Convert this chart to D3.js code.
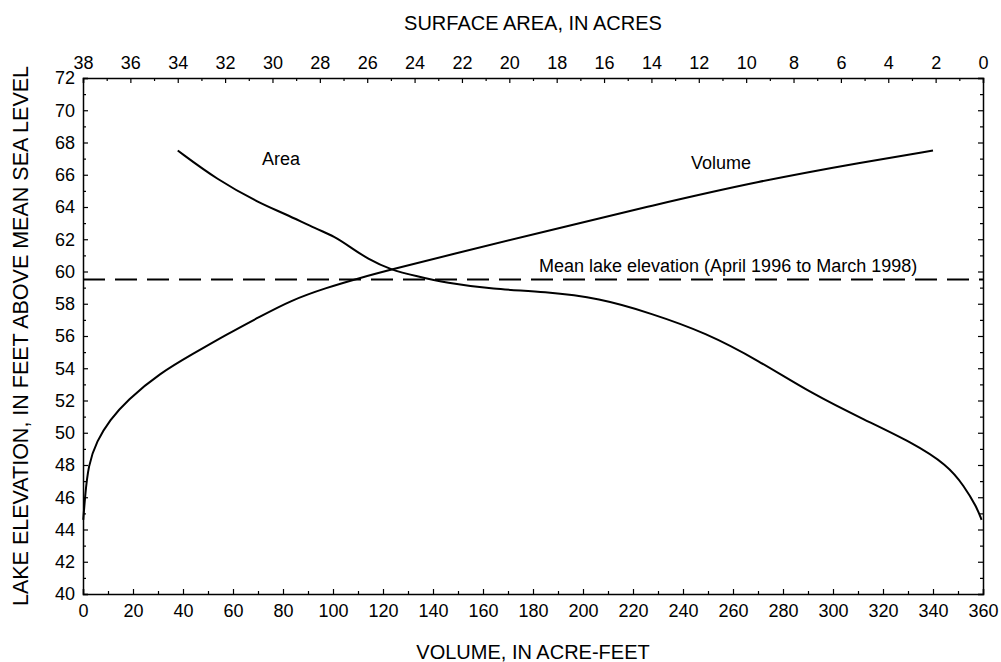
<!DOCTYPE html>
<html>
<head>
<meta charset="utf-8">
<script src="https://cdn.jsdelivr.net/npm/d3@7"></script>
<style>
  body { margin: 0; background: #fff; }
  text { font-family: "Liberation Sans", Arial, Helvetica, sans-serif; fill: #000; }
</style>
</head>
<body>
<div id="root"></div>
<script>
// elevation (ft) vs volume (acre-ft)
var volElev = [44.6, 46, 48, 49.5, 50.8, 52.0, 53.7, 54.9, 56.1, 57.2, 58.2, 59.0, 59.6, 60.1, 61.0, 62.5, 64.1, 65.6, 66.8, 67.5];
var volume  = [0.1, 0.8, 2.1, 5.5, 10.8, 17.5, 30.8, 44.1, 57.5, 70.8, 83, 97.5, 110.8, 122.8, 145.8, 185.2, 227.7, 270.2, 312.6, 340];

// elevation (ft) vs surface area (acres)
var areaElev = [44.6, 45.4, 46.7, 48.0, 49.4, 50.8, 52.4, 54.5, 56.2, 57.4, 58.35, 58.75, 58.9, 59.3, 59.7, 60.1, 60.8, 61.5, 62.2, 62.6, 63.6, 64.2, 65.7, 67.5];
var area     = [0.06, 0.27, 0.8, 1.5, 3.0, 5.0, 7.2, 9.5, 11.7, 14.0, 16.2, 18.5, 20.7, 22.7, 23.9, 25.0, 26.0, 26.7, 27.4, 28.1, 29.5, 30.5, 32.35, 34.0];

var meanElev = 59.5;

(function () {
    var w = 1001, h = 662;
    var pL = 83, pR = 983, pT = 78, pB = 594;

    var svg = d3.select('#root').append('svg').attr('width', w).attr('height', h);

    var x = d3.scaleLinear().domain([0, 360]).range([pL, pR]);
    var xa = d3.scaleLinear().domain([38, 0]).range([pL, pR]);
    var y = d3.scaleLinear().domain([40, 72]).range([pB, pT]);

    // ticks point inward, majors longer
    function len(major) { return major ? 5 : 3; }

    var bottomAxis = svg.append('g').attr('transform', 'translate(0,' + pB + ')')
        .call(d3.axisBottom(x).tickValues(d3.range(0, 361, 10)).tickSize(-5).tickPadding(10)
            .tickFormat(function (d) { return d % 20 === 0 ? d : ''; }));
    bottomAxis.selectAll('.tick line').attr('y2', function (d) { return -len(d % 20 === 0); });

    var topAxis = svg.append('g').attr('transform', 'translate(0,' + pT + ')')
        .call(d3.axisTop(xa).tickValues(d3.range(0, 39, 1)).tickSize(-5).tickPadding(9)
            .tickFormat(function (d) { return d % 2 === 0 ? d : ''; }));
    topAxis.selectAll('.tick line').attr('y2', function (d) { return len(d % 2 === 0); });

    var leftAxis = svg.append('g').attr('transform', 'translate(' + pL + ',0)')
        .call(d3.axisLeft(y).tickValues(d3.range(40, 73, 1)).tickSize(-5).tickPadding(8)
            .tickFormat(function (d) { return d % 2 === 0 ? d : ''; }));
    leftAxis.selectAll('.tick line').attr('x2', function (d) { return len(d % 2 === 0); });

    var rightAxis = svg.append('g').attr('transform', 'translate(' + pR + ',0)')
        .call(d3.axisRight(y).tickValues(d3.range(40, 73, 1)).tickSize(-5).tickFormat(''));
    rightAxis.selectAll('.tick line').attr('x2', function (d) { return -len(d % 2 === 0); });

    svg.selectAll('.domain').attr('stroke', '#000').attr('stroke-width', 1.5);
    svg.selectAll('.tick line').attr('stroke', '#000').attr('stroke-width', 1.2);
    svg.selectAll('.tick text').style('font-size', '18px').attr('fill', '#000');

    // axis titles
    svg.append('text').attr('x', (pL + pR) / 2).attr('y', 30)
        .attr('text-anchor', 'middle').style('font-size', '20px').text('SURFACE AREA, IN ACRES');
    svg.append('text').attr('x', (pL + pR) / 2).attr('y', 659)
        .attr('text-anchor', 'middle').style('font-size', '20px').text('VOLUME, IN ACRE-FEET');
    svg.append('text').attr('transform', 'translate(28,' + (pT + pB) / 2 + ') rotate(-90)')
        .attr('text-anchor', 'middle').style('font-size', '21.5px')
        .text('LAKE ELEVATION, IN FEET ABOVE MEAN SEA LEVEL');

    // mean lake elevation
    svg.append('line')
        .attr('x1', x(0)).attr('x2', x(360))
        .attr('y1', y(meanElev)).attr('y2', y(meanElev))
        .attr('stroke', '#000').attr('stroke-width', 2)
        .attr('stroke-dasharray', '22,10');

    // curves
    var volLine = d3.line()
        .x(function (d) { return x(d[0]); })
        .y(function (d) { return y(d[1]); })
        .curve(d3.curveBasis);
    var areaLine = d3.line()
        .x(function (d) { return xa(d[0]); })
        .y(function (d) { return y(d[1]); })
        .curve(d3.curveBasis);

    svg.append('path')
        .datum(volume.map(function (v, i) { return [v, volElev[i]]; }))
        .attr('d', volLine).attr('fill', 'none').attr('stroke', '#000').attr('stroke-width', 2);
    svg.append('path')
        .datum(area.map(function (a, i) { return [a, areaElev[i]]; }))
        .attr('d', areaLine).attr('fill', 'none').attr('stroke', '#000').attr('stroke-width', 2);

    // labels
    svg.append('text').attr('x', 262).attr('y', 165).style('font-size', '18px').text('Area');
    svg.append('text').attr('x', 691).attr('y', 169).style('font-size', '18px').text('Volume');
    svg.append('text').attr('x', 539).attr('y', 272).style('font-size', '18px')
        .text('Mean lake elevation (April 1996 to March 1998)');
})();
</script>
</body>
</html>
